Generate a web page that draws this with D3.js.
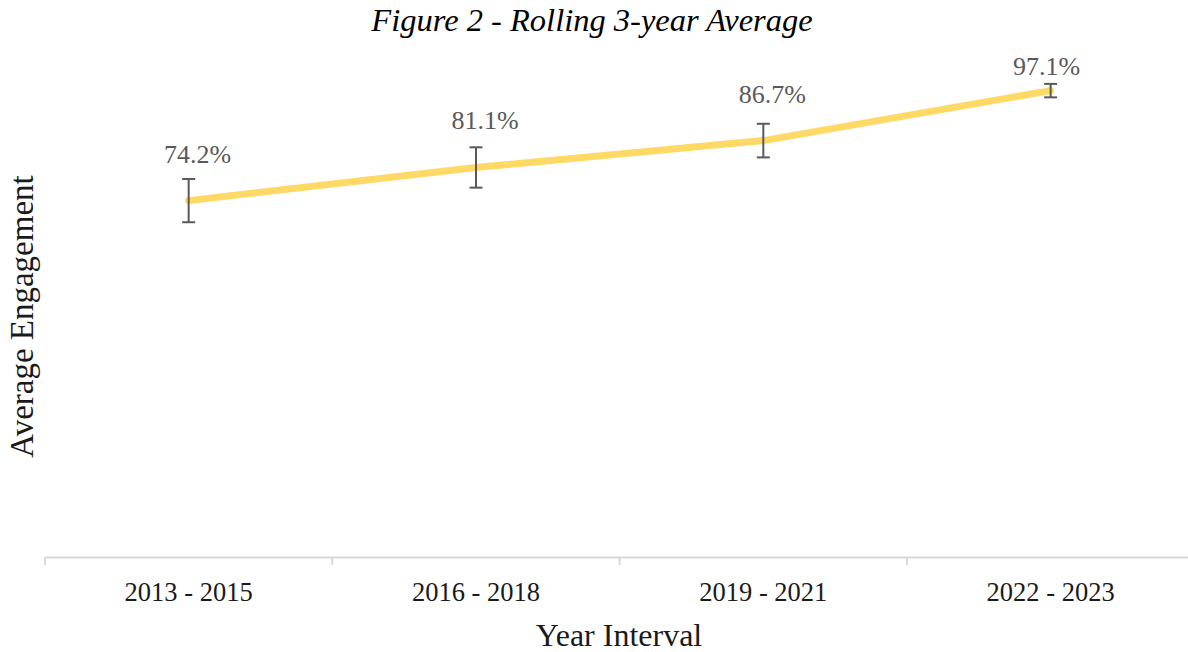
<!DOCTYPE html>
<html>
<head>
<meta charset="utf-8">
<script src="https://cdn.jsdelivr.net/npm/d3@7"></script>
<style>
  html, body { margin: 0; padding: 0; background: #ffffff; }
  svg { display: block; }
</style>
</head>
<body>
<svg id="chart" width="1188" height="652"></svg>
<script>
// ---- data ----
const categories = ["2013 - 2015", "2016 - 2018", "2019 - 2021", "2022 - 2023"];
const values = [74.2, 81.1, 86.7, 97.1];
const errors = [4.5, 4.2, 3.5, 1.4];
const valueLabels = ["74.2%", "81.1%", "86.7%", "97.1%"];
const titleText = "Figure 2 - Rolling 3-year Average";
const xTitle = "Year Interval";
const yTitle = "Average Engagement";

// ---- layout ----
const W = 1188, H = 652;
const svg = d3.select("#chart");
const serif = "'Liberation Serif', 'Times New Roman', serif";

const x = d3.scaleBand().domain(categories).range([45, 1194.3]).padding(0);
const y = d3.scaleLinear().domain([0, 100]).range([557, 76.7]);
const cx = d => x(d) + x.bandwidth() / 2;

// title
svg.append("text")
  .attr("x", 592).attr("y", 31)
  .attr("text-anchor", "middle")
  .style("font-family", serif).style("font-style", "italic")
  .style("font-size", "32.5px").style("fill", "#000")
  .text(titleText);

// x axis
const xAxis = d3.axisBottom(x).tickSize(0).tickFormat("");
const gx = svg.append("g").attr("transform", `translate(0,${y(0)})`).call(xAxis);
gx.select(".domain").attr("stroke", "#d9d9d9").attr("stroke-width", 2);
// tick marks at band boundaries
const boundaries = categories.map(c => x(c)).concat([x.range()[1]]);
gx.selectAll("line.bound").data(boundaries).enter().append("line")
  .attr("class", "bound")
  .attr("x1", d => d).attr("x2", d => d)
  .attr("y1", 0).attr("y2", 8)
  .attr("stroke", "#d9d9d9").attr("stroke-width", 2);
// category labels
svg.append("g").selectAll("text").data(categories).enter().append("text")
  .attr("x", d => cx(d)).attr("y", 601)
  .attr("text-anchor", "middle")
  .style("font-family", serif).style("font-size", "26.5px").style("fill", "#1a1a1a")
  .text(d => d);

// axis titles
svg.append("text")
  .attr("x", 619).attr("y", 646)
  .attr("text-anchor", "middle")
  .style("font-family", serif).style("font-size", "32px").style("fill", "#1a1a1a")
  .text(xTitle);
svg.append("text")
  .attr("transform", "translate(33,316.5) rotate(-90)")
  .attr("text-anchor", "middle")
  .style("font-family", serif).style("font-size", "33px").style("fill", "#1a1a1a")
  .text(yTitle);

// line
const pts = categories.map((c, i) => ({ c, v: values[i], e: errors[i], l: valueLabels[i] }));
const line = d3.line().x(d => cx(d.c)).y(d => y(d.v));
svg.append("path").datum(pts)
  .attr("d", line)
  .attr("fill", "none")
  .attr("stroke", "#FFD966")
  .attr("stroke-width", 7)
  .attr("stroke-linecap", "round")
  .attr("stroke-linejoin", "round");

// error bars
const eb = svg.append("g").attr("stroke", "#595959").attr("stroke-width", 2).attr("fill", "none");
pts.forEach(d => {
  const px = cx(d.c);
  eb.append("line").attr("x1", px).attr("x2", px).attr("y1", y(d.v + d.e)).attr("y2", y(d.v - d.e));
  eb.append("line").attr("x1", px - 6.5).attr("x2", px + 6.5).attr("y1", y(d.v + d.e)).attr("y2", y(d.v + d.e));
  eb.append("line").attr("x1", px - 6.5).attr("x2", px + 6.5).attr("y1", y(d.v - d.e)).attr("y2", y(d.v - d.e));
});

// data labels
const labelDx = [9, 9, 9, -4];
const labelDy = [-37.5, -38, -38, -15.7];
svg.append("g").selectAll("text").data(pts).enter().append("text")
  .attr("x", (d, i) => cx(d.c) + labelDx[i])
  .attr("y", (d, i) => y(d.v) + labelDy[i])
  .attr("text-anchor", "middle")
  .style("font-family", serif).style("font-size", "26px").style("fill", "#595959")
  .text(d => d.l);
</script>
</body>
</html>
